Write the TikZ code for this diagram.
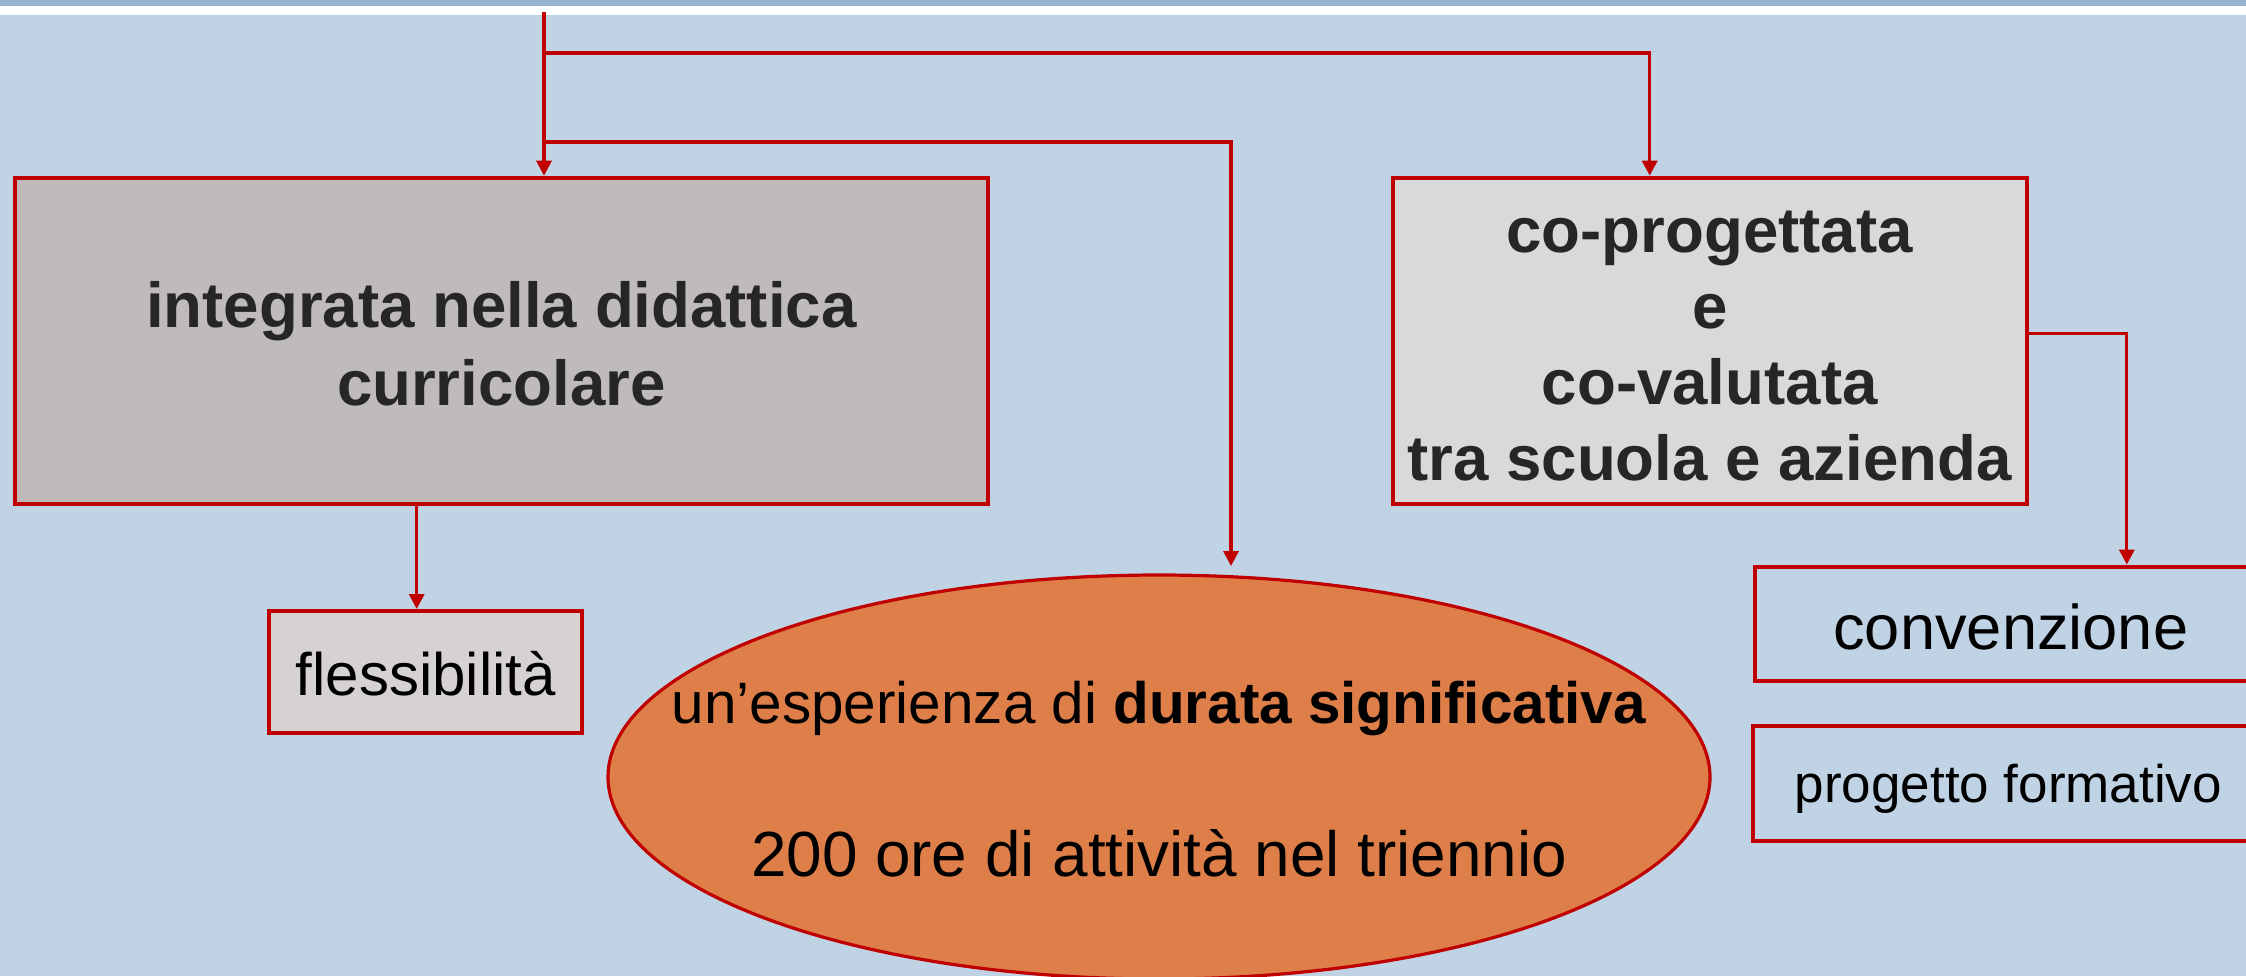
\documentclass[tikz,border=0pt]{standalone}
\usepackage{fontspec}
\setmainfont{Liberation Sans}
\usepackage{xcolor}
\usepackage{tikz}
\usetikzlibrary{positioning}
\usetikzlibrary{shapes.geometric}
\usetikzlibrary{arrows.meta}
\definecolor{sfondo}{RGB}{192,211,228}
\definecolor{banda}{RGB}{149,179,208}
\definecolor{rosso}{RGB}{192,0,0}
\definecolor{grigioA}{RGB}{192,187,187}
\definecolor{grigioB}{RGB}{214,210,210}
\definecolor{grigioC}{RGB}{217,217,217}
\definecolor{arancio}{RGB}{222,126,72}
\definecolor{testo}{RGB}{38,38,38}
\newcommand{\alza}{\rule{0pt}{0.95em}}
\newcommand{\abbassa}{\rule[-0.15em]{0pt}{0.15em}}
\tikzset{
  casella/.style={draw=rosso, line width=2pt, rectangle, inner sep=0pt, align=center},
  freccia/.style={draw=rosso, line width=1.65pt, -{Triangle[width=7.5pt,length=7.5pt]}},
}

\begin{document}
\begin{tikzpicture}[x=0.5pt,y=-0.5pt]
            % Sfondo e banda in alto
            \useasboundingbox (0,0) rectangle (2246,976);
            \fill[sfondo] (0,0) rectangle (2246,976);
            \fill[white] (0,0) rectangle (2246,15);
            \fill[banda] (0,0) rectangle (2246,6);
            \clip (0,0) rectangle (2246,976);
            % Caselle
            \node[casella, fill=grigioA, text=testo, minimum width=486.5pt, minimum height=163.3pt,
                  font=\fontsize{31.8}{38.8}\selectfont\bfseries] (integ) at (501.4,341)
                  {\alza integrata nella didattica\\curricolare\abbassa};
            \node[casella, fill=grigioC, text=testo, minimum width=317pt, minimum height=163.3pt,
                  font=\fontsize{31.8}{38.05}\selectfont\bfseries] (coprog) at (1709.7,341)
                  {\alza co-progettata\\e\\co-valutata\\tra scuola e azienda\abbassa};
            \node[casella, fill=grigioB, minimum width=156.7pt, minimum height=60.8pt,
                  font=\fontsize{30}{36}\selectfont] (flex) at (425.7,671.8) {\alza flessibilità\abbassa};
            \node[casella, minimum width=255.8pt, minimum height=57.2pt,
                  font=\fontsize{31.6}{38}\selectfont] (conv) at (2010.8,623.8) {\alza convenzione\abbassa};
            \node[casella, minimum width=255.6pt, minimum height=57.3pt,
                  font=\fontsize{26.5}{32}\selectfont] (prog) at (2008.3,783.3) {\alza progetto formativo\abbassa};
            \node[ellipse, draw=rosso, line width=1.6pt, fill=arancio, inner sep=0pt, align=center,
                  minimum width=551pt, minimum height=202pt,
                  font=\fontsize{29.2}{40}\selectfont] (durata) at (1159,777)
                  {\makebox[0pt]{\alza un’esperienza di \textbf{durata significativa}}\\[36.7pt]
                   \fontsize{31.9}{40}\selectfont\makebox[0pt]{200 ore di attività nel triennio\abbassa}};
            % Collegamenti
            \coordinate (radice) at (544,12);
            \coordinate (nodo1) at (544,53);
            \coordinate (nodo2) at (544,142);
            \coordinate (puntaDur) at (1231,566);
            \coordinate (fl) at ([xshift=-4.5pt]flex.north);
            \coordinate (cv) at ([xshift=58pt]conv.north);
            \draw[freccia] (radice) -- (radice |- integ.north);
            \draw[freccia] (nodo1) -| ([xshift=-30pt]coprog.north);
            \draw[freccia] (nodo2) -| (puntaDur);
            \draw[freccia] (fl |- integ.south) -- (fl);
            \draw[freccia] ([yshift=3.6pt]coprog.east) -| (cv);
        \end{tikzpicture}
\end{document}
